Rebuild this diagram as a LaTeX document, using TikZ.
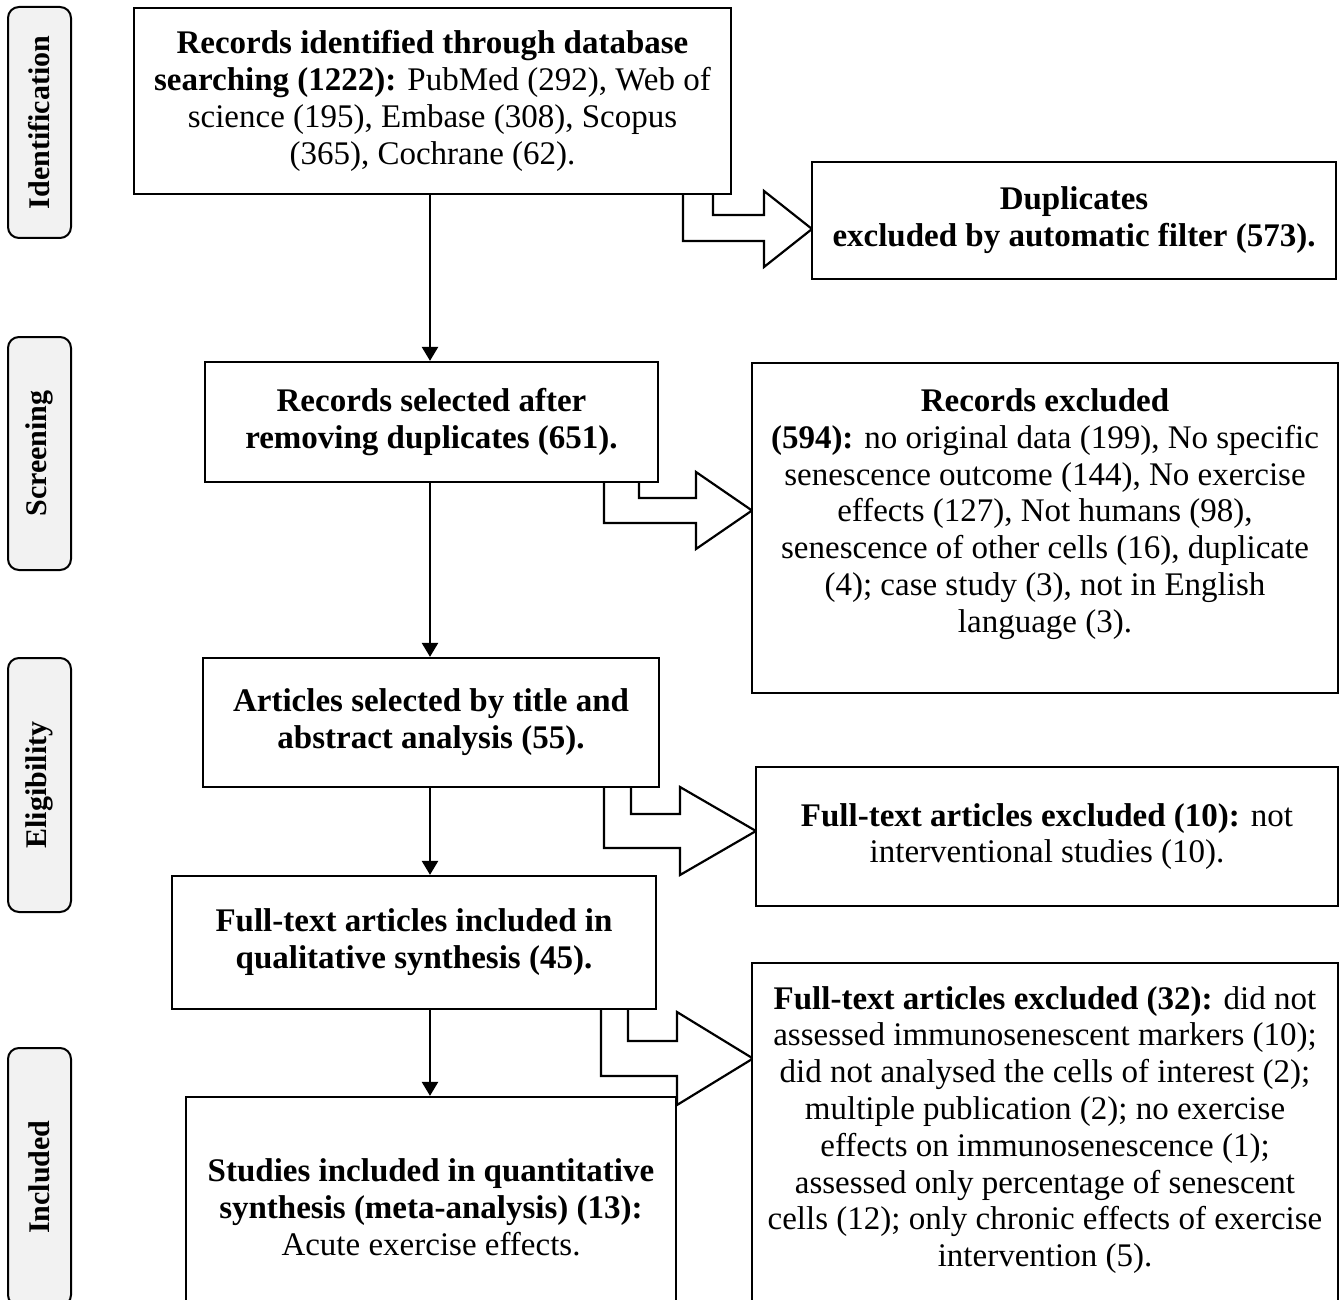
\documentclass[tikz,border=0pt]{standalone}
\usepackage{fontspec}
\setmainfont{Liberation Serif}
\usetikzlibrary{arrows.meta}
\definecolor{sidegray}{HTML}{F2F2F2}
\begin{document}
\begin{tikzpicture}[x=1pt,y=-1pt,
  box/.style={draw, line width=2.2pt, fill=white, inner sep=0pt, align=center, font=\fontsize{33pt}{36.8pt}\selectfont},
  txt/.style={inner sep=0pt, align=center, font=\fontsize{33pt}{36.8pt}\selectfont},
  side/.style={draw, line width=2pt, rounded corners=11pt, fill=sidegray, inner sep=0pt, minimum width=63pt},
  sidetxt/.style={rotate=90, inner sep=0pt, font=\fontsize{30pt}{34pt}\selectfont\bfseries},
  varrow/.style={line width=2.5pt, -{Triangle[width=16pt,length=14pt]}},
  barrow/.style={line width=2.2pt, fill=white, line join=miter}]
\useasboundingbox (0,0) rectangle (1339,1300);
\clip (0,0) rectangle (1339,1300);

% side labels
\node[side, minimum height=231pt] (L1) at (39.5,122.5) {};
\node[sidetxt] (L1t) at (L1.center) {Identification};
\node[side, minimum height=233pt] (L2) at (39.5,453.5) {};
\node[sidetxt] (L2t) at (L2.center) {Screening};
\node[side, minimum height=254pt] (L3) at (39.5,785) {};
\node[sidetxt] (L3t) at (L3.center) {Eligibility};
\node[side, minimum height=258pt] (L4) at (39.5,1177) {};
\node[sidetxt] (L4t) at (L4.center) {Included};

% block arrows
\draw[barrow] (713,194) -- (713,215) -- (764,215) -- (764,191) -- (812,229) -- (764,267) -- (764,241) -- (683,241) -- (683,194);
\draw[barrow] (639,482) -- (639,498) -- (696,498) -- (696,472) -- (752,510.5) -- (696,549) -- (696,523) -- (604,523) -- (604,482);
\draw[barrow] (631,787) -- (631,814) -- (680,814) -- (680,787) -- (756,831) -- (680,875) -- (680,848) -- (604,848) -- (604,787);
\draw[barrow] (628,1009) -- (628,1041) -- (677,1041) -- (677,1012) -- (753,1058.5) -- (677,1105) -- (677,1076) -- (601,1076) -- (601,1009);

% main column
\node[box, minimum width=597pt, minimum height=186pt] (B1) at (432.5,101)
 {\textbf{Records identified through database}\\
  \textbf{searching (1222):} PubMed (292), Web of\\
  science (195), Embase (308), Scopus\\
  (365), Cochrane (62).};
\node[box, minimum width=453pt, minimum height=120pt] (B2) at (431.5,422)
 {\textbf{Records selected after}\\ \textbf{removing duplicates (651).}};
\node[box, minimum width=456pt, minimum height=129pt] (B3) at (431,722.5)
 {\textbf{Articles selected by title and}\\ \textbf{abstract analysis (55).}};
\node[box, minimum width=484pt, minimum height=133pt] (B4) at (414,942.5)
 {\textbf{Full-text articles included in}\\ \textbf{qualitative synthesis (45).}};
\node[box, minimum width=490pt, minimum height=220pt] (B5) at (431,1207)
 {\textbf{Studies included in quantitative}\\ \textbf{synthesis (meta-analysis) (13):}\\ Acute exercise effects.};

% right column
\node[box, minimum width=524pt, minimum height=117pt] (D) at (1074,220.5)
 {\textbf{Duplicates}\\ \textbf{excluded by automatic filter (573).}};
\node[box, minimum width=586pt, minimum height=330pt] (R1) at (1045,528) {};
\node[txt] (R1t) at (1045,514)
 {\textbf{Records excluded}\\
  \textbf{(594):} no original data (199), No specific\\
  senescence outcome (144), No exercise\\
  effects (127), Not humans (98),\\
  senescence of other cells (16), duplicate\\
  (4); case study (3), not in English\\
  language (3).};
\node[box, minimum width=582pt, minimum height=139pt] (R2) at (1047,836.5)
 {\textbf{Full-text articles excluded (10):} not\\ interventional studies (10).};
\node[box, minimum width=586pt, minimum height=357pt] (R3) at (1045,1141.5) {};
\node[txt] (R3t) at (1045,1130)
 {\textbf{Full-text articles excluded (32):} did not\\
  assessed immunosenescent markers (10);\\
  did not analysed the cells of interest (2);\\
  multiple publication (2); no exercise\\
  effects on immunosenescence (1);\\
  assessed only percentage of senescent\\
  cells (12); only chronic effects of exercise\\
  intervention (5).};

% vertical arrows
\coordinate (ax) at (430,0);
\draw[varrow] (B1.south -| ax) -- (B2.north -| ax);
\draw[varrow] (B2.south -| ax) -- (B3.north -| ax);
\draw[varrow] (B3.south -| ax) -- (B4.north -| ax);
\draw[varrow] (B4.south -| ax) -- (B5.north -| ax);
\end{tikzpicture}
\end{document}
